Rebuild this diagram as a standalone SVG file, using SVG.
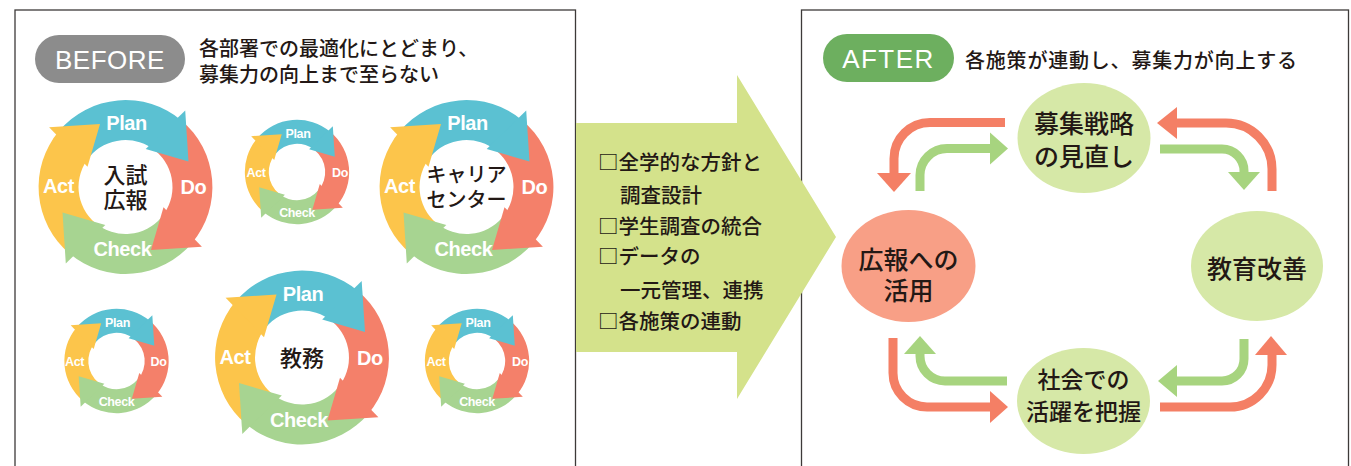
<svg xmlns="http://www.w3.org/2000/svg" width="1351" height="466" viewBox="0 0 1351 466">
<defs>
<style>
.frame{fill:none;stroke:#3d3a39;stroke-width:1.3}
.lbl{font-family:"Liberation Sans",Arial,sans-serif;font-weight:bold;fill:#fff;text-anchor:middle;letter-spacing:-0.4px}
.big{font-size:20px}
.sm{font-size:12.5px}
.jp{font-family:"Noto Sans CJK JP","Noto Sans",sans-serif;fill:#231815;font-weight:500}
.c{text-anchor:middle}
.b{fill:#5bc1d2}
.r{fill:#f4806a}
.g{fill:#a7d491}
.y{fill:#fcc54b}
.pill{font-family:"Liberation Sans",Arial,sans-serif;fill:#fff;font-size:26px;text-anchor:middle}
.node-g{fill:#d6e8a7}
.node-r{fill:#f89f86}
.ar{fill:none;stroke-width:9}
.ar-r{stroke:#f47f65}
.ar-g{stroke:#a7d47f}
.hd-r{fill:#f47f65}
.hd-g{fill:#a7d47f}
</style>
<path id="body" d="M -66.6 -55.9 A 87 87 0 0 1 55.9 -66.6 L 30.2 -36.0 A 47 47 0 0 0 -36.0 -30.2 Z"/>
<path id="head" d="M 59.7 -76.4 L 63.0 -25.5 L 20.2 -38.0 Z"/>
<g id="ring">
<use href="#body" class="b"/>
<use href="#body" class="r" transform="rotate(90)"/>
<use href="#body" class="g" transform="rotate(180)"/>
<use href="#body" class="y" transform="rotate(270)"/>
<use href="#head" class="b"/>
<use href="#head" class="r" transform="rotate(90)"/>
<use href="#head" class="g" transform="rotate(180)"/>
<use href="#head" class="y" transform="rotate(270)"/>
</g>
</defs>
<rect width="1351" height="466" fill="#fff"/>
<rect class="frame" x="15" y="10" width="560.5" height="480"/>
<rect class="frame" x="801.5" y="10" width="547" height="480"/>

<g id="before-header">
<rect x="35" y="35" width="150" height="48" rx="24" fill="#8c8c8c"/>
<text class="pill" x="110" y="68.5" letter-spacing="0.5">BEFORE</text>
<text class="jp" font-size="20"><tspan x="199" y="56">各部署での最適化にとどまり、</tspan><tspan x="199" y="82">募集力の向上まで至らない</tspan></text>
</g>

<g id="cycle-nyushi" transform="translate(125.5,187)">
<use href="#ring"/>
<text class="lbl big" x="1" y="-57">Plan</text>
<text class="lbl big" x="68" y="7">Do</text>
<text class="lbl big" x="-3" y="69">Check</text>
<text class="lbl big" x="-67" y="6">Act</text>
<text class="jp c" font-size="22"><tspan x="0" y="-4">入試</tspan><tspan x="0" y="21">広報</tspan></text>
</g>

<g id="cycle-small-1" transform="translate(297,172)">
<use href="#ring" transform="scale(0.6)"/>
<text class="lbl sm" x="1" y="-34.5">Plan</text>
<text class="lbl sm" x="43" y="5">Do</text>
<text class="lbl sm" x="0" y="45">Check</text>
<text class="lbl sm" x="-41" y="4.5">Act</text>
</g>

<g id="cycle-career" transform="translate(466.5,187)">
<use href="#ring"/>
<text class="lbl big" x="1" y="-57">Plan</text>
<text class="lbl big" x="68" y="7">Do</text>
<text class="lbl big" x="-3" y="69">Check</text>
<text class="lbl big" x="-67" y="6">Act</text>
<text class="jp c" font-size="20"><tspan x="0" y="-5">キャリア</tspan><tspan x="0" y="20">センター</tspan></text>
</g>

<g id="cycle-small-2" transform="translate(116.5,361)">
<use href="#ring" transform="scale(0.6)"/>
<text class="lbl sm" x="1" y="-34.5">Plan</text>
<text class="lbl sm" x="42" y="5">Do</text>
<text class="lbl sm" x="0" y="45">Check</text>
<text class="lbl sm" x="-42" y="4.5">Act</text>
</g>

<g id="cycle-kyomu" transform="translate(302,357.5)">
<use href="#ring"/>
<text class="lbl big" x="1" y="-57">Plan</text>
<text class="lbl big" x="68" y="7">Do</text>
<text class="lbl big" x="-3" y="69">Check</text>
<text class="lbl big" x="-67" y="6">Act</text>
<text class="jp c" x="0" y="8.5" font-size="22">教務</text>
</g>

<g id="cycle-small-3" transform="translate(477,361)">
<use href="#ring" transform="scale(0.6)"/>
<text class="lbl sm" x="1" y="-34.5">Plan</text>
<text class="lbl sm" x="43" y="5">Do</text>
<text class="lbl sm" x="0" y="45">Check</text>
<text class="lbl sm" x="-41" y="4.5">Act</text>
</g>

<g id="transition">
<polygon points="576,123 737,123 737,75 836,237 737,399 737,352 576,352" fill="#d4e28b"/>
<text class="jp" font-size="20.5"><tspan x="598" y="170">□全学的な方針と</tspan><tspan x="620" y="203">調査設計</tspan><tspan x="598" y="234">□学生調査の統合</tspan><tspan x="598" y="264">□データの</tspan><tspan x="620" y="298">一元管理、連携</tspan><tspan x="598" y="329">□各施策の連動</tspan></text>
</g>

<g id="after-header">
<rect x="823" y="34" width="131" height="48" rx="24" fill="#6daf5f"/>
<text class="pill" x="888.5" y="67.5" letter-spacing="1.5">AFTER</text>
<text class="jp" x="965" y="68" font-size="20" letter-spacing="0.8">各施策が連動し、募集力が向上する</text>
</g>

<g id="connectors">
<path class="ar ar-r" d="M 1005 122.5 H 930 A 36 36 0 0 0 894 158.5 V 175"/>
<polygon class="hd-r" points="877,173 911,173 894,192"/>
<path class="ar ar-g" d="M 920 191 V 175 A 27 27 0 0 1 947 148.5 H 991"/>
<polygon class="hd-g" points="990,132.5 1008,148.5 990,164.5"/>
<path class="ar ar-r" d="M 1272 191 V 169 A 46 46 0 0 0 1226 123 H 1176"/>
<polygon class="hd-r" points="1177,107 1157,123 1177,139"/>
<path class="ar ar-g" d="M 1160 149 H 1222 A 22 22 0 0 1 1244 171 V 174"/>
<polygon class="hd-g" points="1228,172 1260,172 1244,190"/>
<path class="ar ar-r" d="M 893 338 V 373 A 34 34 0 0 0 927 407 H 992"/>
<polygon class="hd-r" points="990,391 1008,407 990,423"/>
<path class="ar ar-g" d="M 1007 381 H 945 A 25 25 0 0 1 920 356 V 353"/>
<polygon class="hd-g" points="904,354 920,336 936,354"/>
<path class="ar ar-g" d="M 1244 339 V 359 A 22 22 0 0 1 1222 381 H 1176"/>
<polygon class="hd-g" points="1177,365 1158,381 1177,397"/>
<path class="ar ar-r" d="M 1160 407 H 1230 A 42 42 0 0 0 1272 365 V 354"/>
<polygon class="hd-r" points="1255,355 1271,336 1287,355"/>
</g>

<g id="node-strategy">
<ellipse class="node-g" cx="1084" cy="138" rx="66.5" ry="55"/>
<text class="jp c" font-size="25"><tspan x="1084" y="132.5">募集戦略</tspan><tspan x="1084" y="165.5">の見直し</tspan></text>
</g>
<g id="node-pr">
<ellipse class="node-r" cx="908.5" cy="266" rx="67" ry="56"/>
<text class="jp c" font-size="25"><tspan x="908.5" y="268.5">広報への</tspan><tspan x="908.5" y="299.5">活用</tspan></text>
</g>
<g id="node-education">
<ellipse class="node-g" cx="1257" cy="266" rx="66" ry="55"/>
<text class="jp c" x="1257" y="277.5" font-size="25">教育改善</text>
</g>
<g id="node-society">
<ellipse class="node-g" cx="1083.5" cy="401" rx="66.5" ry="53"/>
<text class="jp c" font-size="23"><tspan x="1083.5" y="387.5">社会での</tspan><tspan x="1083.5" y="419.5">活躍を把握</tspan></text>
</g>
</svg>
